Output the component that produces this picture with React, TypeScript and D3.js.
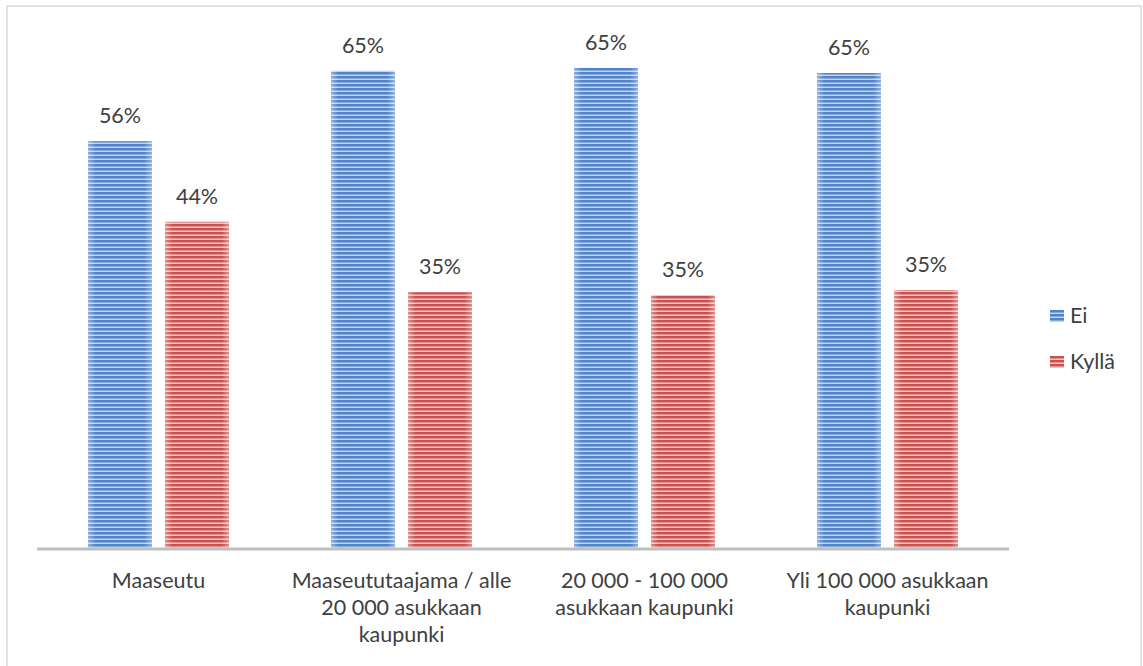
import React from "react";
import * as d3 from "d3";

const categories: string[][] = [
  ["Maaseutu"],
  ["Maaseututaajama / alle", "20 000 asukkaan", "kaupunki"],
  ["20 000 - 100 000", "asukkaan kaupunki"],
  ["Yli 100 000 asukkaan", "kaupunki"],
];
const seriesNames = ["Ei", "Kyllä"];
const eiValues = [55.5, 65.1, 65.5, 64.8];
const kyllaValues = [44.5, 34.9, 34.5, 35.2];
const labelsEi = ["56%", "65%", "65%", "65%"];
const labelsKylla = ["44%", "35%", "35%", "35%"];

const W = 1143;
const H = 666;
const FONT = "Lato, 'Open Sans', sans-serif";
const TEXT = "#404040";
const FS = 21.5;

export default function App() {
  const x0 = d3
    .scaleBand<number>()
    .domain(d3.range(categories.length))
    .range([37, 1009])
    .paddingInner(0)
    .paddingOuter(0);
  const x1 = d3
    .scaleBand<string>()
    .domain(seriesNames)
    .range([51, x0.bandwidth() - 51])
    .paddingInner(0.17);
  const y = d3.scaleLinear().domain([0, 70]).range([548, 548 - 70 * 7.33]);

  const series = [
    { name: "Ei", values: eiValues, labels: labelsEi, pat: "patEi" },
    { name: "Kyllä", values: kyllaValues, labels: labelsKylla, pat: "patKy" },
  ];

  return (
    <svg
      width={W}
      height={H}
      style={{ position: "absolute", left: 0, top: 0, background: "#fff" }}
      fontFamily={FONT}
    >
      <defs>
        <pattern id="patEi" width="8" height="4" patternUnits="userSpaceOnUse">
          <rect width="8" height="4" fill="#c2d5ef" />
          <rect y="0" width="8" height="2" fill="#5185c8" />
          <rect y="2" width="8" height="1" fill="#86a9dc" />
        </pattern>
        <pattern id="patKy" width="8" height="4" patternUnits="userSpaceOnUse">
          <rect width="8" height="4" fill="#efc5c4" />
          <rect y="0" width="8" height="2" fill="#c9504d" />
          <rect y="2" width="8" height="1" fill="#de918f" />
        </pattern>
        <linearGradient id="edge" x1="0" x2="1" y1="0" y2="0">
          <stop offset="0" stopColor="#fff" stopOpacity="0.35" />
          <stop offset="0.12" stopColor="#fff" stopOpacity="0" />
          <stop offset="0.88" stopColor="#fff" stopOpacity="0" />
          <stop offset="1" stopColor="#fff" stopOpacity="0.35" />
        </linearGradient>
      </defs>
      <rect x={7} y={6} width={1134} height={680} fill="#fff" stroke="#d9d9d9" strokeWidth={1.5} />

      {categories.map((cat, i) => (
        <g key={i} transform={`translate(${x0(i)},0)`}>
          {series.map((s) => {
            const bx = x1(s.name)!;
            const bw = x1.bandwidth();
            const top = y(s.values[i]);
            return (
              <g key={s.name}>
                <rect x={bx} y={top} width={bw} height={y(0) - top} fill={`url(#${s.pat})`} />
                <rect x={bx} y={top} width={bw} height={y(0) - top} fill="url(#edge)" />
                <text
                  x={bx + bw / 2}
                  y={top - 18}
                  textAnchor="middle"
                  fontSize={FS}
                  fill={TEXT}
                >
                  {s.labels[i]}
                </text>
              </g>
            );
          })}
          {cat.map((line, j) => (
            <text
              key={j}
              x={x0.bandwidth() / 2}
              y={588 + j * 27}
              textAnchor="middle"
              fontSize={FS}
              fill={TEXT}
            >
              {line}
            </text>
          ))}
        </g>
      ))}

      <line x1={37} x2={1009} y1={y(0) + 1} y2={y(0) + 1} stroke="#bfbfbf" strokeWidth={3} />

      {series.map((s, k) => (
        <g key={s.name} transform={`translate(1050,${310 + k * 46})`}>
          <rect x={0} y={0} width={14} height={12} fill={`url(#${s.pat})`} />
          <text x={20} y={13} fontSize={FS} fill={TEXT}>
            {s.name}
          </text>
        </g>
      ))}
    </svg>
  );
}
